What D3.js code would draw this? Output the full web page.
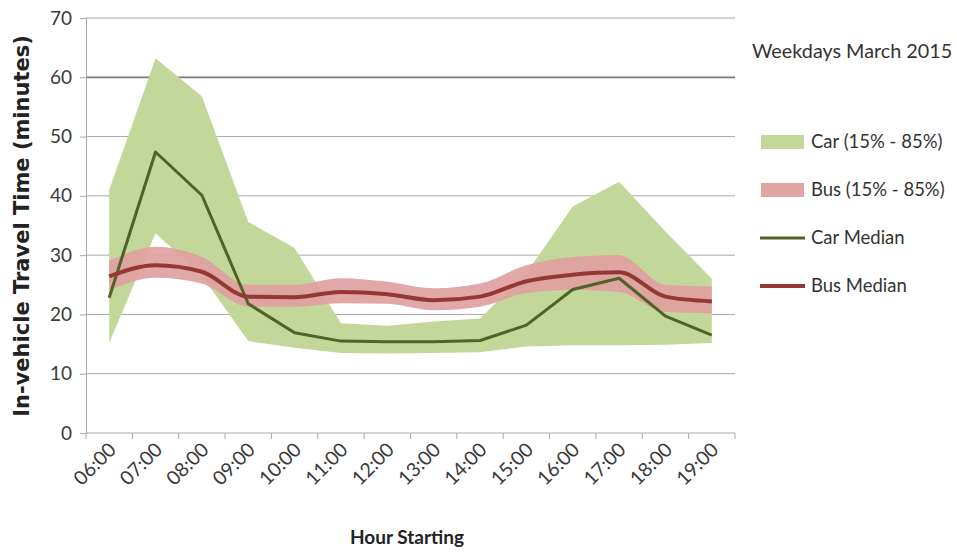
<!DOCTYPE html>
<html>
<head>
<meta charset="utf-8">
<script src="https://cdn.jsdelivr.net/npm/d3@7"></script>
<style>
  html, body { margin: 0; padding: 0; background: #fff; overflow: hidden; }
  svg { display: block; }
</style>
</head>
<body>
<svg id="chart" width="957" height="553"></svg>
<script>
// Hour of day (start of each hourly period)
const hours = ["06:00","07:00","08:00","09:00","10:00","11:00","12:00","13:00","14:00","15:00","16:00","17:00","18:00","19:00"];

// Car travel time, minutes
const carLow    = [15.2, 33.7, 26.5, 15.5, 14.4, 13.5, 13.4, 13.5, 13.6, 14.6, 14.8, 14.8, 14.9, 15.2];
const carHigh   = [41.0, 63.2, 56.8, 35.6, 31.2, 18.5, 18.1, 18.8, 19.3, 27.0, 38.2, 42.4, 34.0, 26.0];
const carMedian = [22.8, 47.4, 40.1, 21.8, 16.9, 15.5, 15.4, 15.4, 15.6, 18.2, 24.2, 26.1, 19.7, 16.5];

// Bus travel time, minutes
const busLow    = [24.1, 26.2, 25.2, 21.3, 21.3, 21.9, 21.8, 20.7, 21.3, 23.6, 24.1, 23.8, 20.4, 20.2];
const busHigh   = [29.0, 31.4, 29.7, 25.0, 25.0, 26.1, 25.5, 24.4, 25.2, 28.3, 29.7, 30.0, 25.0, 24.7];
const busMedian = [26.4, 28.3, 27.2, 23.0, 22.9, 23.8, 23.4, 22.4, 23.0, 25.6, 26.7, 27.1, 23.0, 22.2];

const yTicks = [0, 10, 20, 30, 40, 50, 60, 70];

const legendItems = [
  { label: "Car (15% - 85%)", type: "band", color: "#c4d79b" },
  { label: "Bus (15% - 85%)", type: "band", color: "#e0a4a3" },
  { label: "Car Median", type: "line", color: "#4f6228" },
  { label: "Bus Median", type: "line", color: "#953735" }
];

const svg = d3.select("#chart");
const font = "Lato, 'Open Sans', sans-serif";

const x = d3.scaleBand().domain(hours).range([86, 735]).padding(0);
const y = d3.scaleLinear().domain([0, 70]).range([433, 18]);
const cx = h => x(h) + x.bandwidth() / 2;

// Horizontal gridlines
svg.append("g").selectAll("line")
  .data(yTicks.filter(t => t > 0))
  .join("line")
  .attr("x1", 86).attr("x2", 735)
  .attr("y1", d => y(d)).attr("y2", d => y(d))
  .attr("stroke", d => d === 60 ? "#7a7a7a" : "#a8a8a8")
  .attr("stroke-width", d => d === 60 ? 1.8 : 1);

const rows = hours.map((h, i) => ({
  h, carLow: carLow[i], carHigh: carHigh[i], carMedian: carMedian[i],
  busLow: busLow[i], busHigh: busHigh[i], busMedian: busMedian[i]
}));

// Car 15%-85% band
svg.append("path").datum(rows)
  .attr("fill", "#c4d79b")
  .attr("d", d3.area().x(d => cx(d.h)).y0(d => y(d.carLow)).y1(d => y(d.carHigh)));

// Bus 15%-85% band
svg.append("path").datum(rows)
  .attr("fill", "#e0a0a0")
  .attr("fill-opacity", 0.92)
  .attr("d", d3.area().curve(d3.curveMonotoneX).x(d => cx(d.h)).y0(d => y(d.busLow)).y1(d => y(d.busHigh)));

// Car median
svg.append("path").datum(rows)
  .attr("fill", "none").attr("stroke", "#4f6228").attr("stroke-width", 3)
  .attr("stroke-linejoin", "round")
  .attr("d", d3.line().x(d => cx(d.h)).y(d => y(d.carMedian)));

// Bus median
svg.append("path").datum(rows)
  .attr("fill", "none").attr("stroke", "#953735").attr("stroke-width", 4)
  .attr("stroke-linejoin", "round")
  .attr("d", d3.line().curve(d3.curveMonotoneX).x(d => cx(d.h)).y(d => y(d.busMedian)));

// Y axis
const yAxis = svg.append("g").attr("transform", "translate(86,0)")
  .call(d3.axisLeft(y).tickValues(yTicks).tickSize(6).tickPadding(8).tickFormat(d3.format("d")));
yAxis.select(".domain").attr("stroke", "#a8a8a8");
yAxis.selectAll(".tick line").attr("stroke", "#a8a8a8");
yAxis.selectAll(".tick text").attr("font-family", font).attr("font-size", 19).attr("fill", "#3a3a3a");

// X axis: ticks at category boundaries, labels at category centres
const xAxisG = svg.append("g").attr("transform", "translate(0,433)");
xAxisG.append("line").attr("x1", 86).attr("x2", 735).attr("stroke", "#a8a8a8");
xAxisG.selectAll("line.tk")
  .data(hours.map(h => x(h)).concat([735]))
  .join("line").attr("class", "tk")
  .attr("x1", d => d).attr("x2", d => d).attr("y1", 0).attr("y2", 6)
  .attr("stroke", "#a8a8a8");
xAxisG.selectAll("text")
  .data(hours)
  .join("text")
  .attr("transform", h => `translate(${cx(h) + 8},${18}) rotate(-45)`)
  .attr("text-anchor", "end")
  .attr("font-family", font).attr("font-size", 19.5).attr("fill", "#3a3a3a")
  .text(h => h);

// Axis titles
svg.append("text")
  .attr("transform", "translate(29,226) rotate(-90)")
  .attr("text-anchor", "middle")
  .attr("font-family", "'DejaVu Sans', Verdana, sans-serif").attr("font-weight", "bold")
  .attr("font-size", 21).attr("fill", "#222")
  .text("In-vehicle Travel Time (minutes)");

svg.append("text")
  .attr("x", 407).attr("y", 544)
  .attr("text-anchor", "middle")
  .attr("font-family", font).attr("font-weight", "bold")
  .attr("font-size", 19).attr("fill", "#222")
  .text("Hour Starting");

// Legend
svg.append("text")
  .attr("x", 752).attr("y", 58)
  .attr("font-family", font).attr("font-size", 19.8).attr("fill", "#333")
  .text("Weekdays March 2015");

const lg = svg.append("g").selectAll("g")
  .data(legendItems)
  .join("g")
  .attr("transform", (d, i) => `translate(760,${142 + i * 48})`);
lg.filter(d => d.type === "band").append("rect")
  .attr("x", 1).attr("y", -7).attr("width", 43).attr("height", 14)
  .attr("fill", d => d.color);
lg.filter(d => d.type === "line").append("line")
  .attr("x1", 0).attr("x2", 45).attr("y1", 0).attr("y2", 0)
  .attr("stroke", d => d.color).attr("stroke-width", d => d.label === "Bus Median" ? 4 : 3);
lg.append("text")
  .attr("x", 51).attr("y", 0).attr("dy", "0.35em")
  .attr("font-family", font).attr("font-size", 18.5).attr("fill", "#333")
  .text(d => d.label);
</script>
</body>
</html>
